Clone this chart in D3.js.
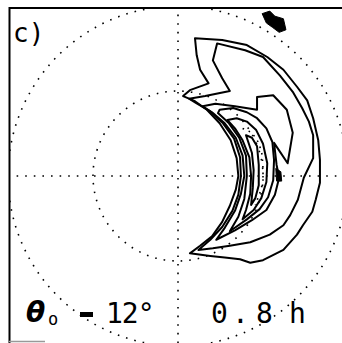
<!DOCTYPE html>
<html>
  <meta charset="utf-8" />
  <script src="https://cdnjs.cloudflare.com/ajax/libs/d3/7.8.5/d3.min.js"></script>
  <style>
    html, body { margin: 0; padding: 0; background: #fff; overflow: hidden; }
    #chart { width: 342px; height: 343px; }
    .grid { fill: none; stroke: #000; stroke-width: 1.6px; stroke-dasharray: 1.6 7; }
    .contour { fill: none; stroke: #000; stroke-width: 2px; stroke-linejoin: round; }
    .dots { fill: none; stroke: #000; stroke-width: 1.6px; stroke-dasharray: 1.6 5; }
    .frame { stroke: #000; stroke-width: 2px; }
    .lbl { font-family: 'DejaVu Sans Mono', monospace; fill: #000; }
  </style>
  <body>
    <div id="chart"></div>
  </body>
  <script>
    // polar grid, units = degrees from the pole
    var rings = [10, 20];

    // contour levels, outermost first ([x, y] in degrees)
    var level1 = [[2.0,16.2],[5.2,16.0],[8.1,15.4],[10.5,14.0],[12.4,12.5],[14.0,10.5],[15.2,8.9],[15.9,6.8],[16.5,4.2],[16.7,1.9],[16.7,-0.8],[16.2,-2.8],[15.8,-4.2],[14.7,-5.8],[14.0,-6.9],[12.4,-8.7],[10.0,-9.9],[8.5,-10.2],[7.3,-9.8],[5.5,-9.6],[3.8,-9.4],[1.4,-9.1],[2.6,-8.2],[4.0,-7.1],[5.2,-5.4],[6.1,-3.5],[6.8,-1.6],[7.1,0],[6.9,2.1],[6.2,4.2],[4.9,6.2],[3.4,7.8],[2.0,8.8],[0.6,9.4],[1.4,10.1],[3.6,10.9],[2.6,12.5],[2.2,14.2]];
    var level2 = [[4.6,15.6],[7.9,14.8],[10.0,14.0],[12.0,11.8],[13.5,9.9],[14.6,8.0],[15.4,6.4],[15.9,4.8],[15.9,2.1],[14.8,-0.2],[14.1,-2.8],[13.2,-4.6],[12.4,-5.8],[10.8,-6.9],[8.5,-7.8],[6.1,-8.2],[4.1,-8.5],[2.4,-8.7],[3.8,-7.5],[5.2,-6.0],[6.4,-4.1],[7.1,-2.2],[7.4,0],[7.3,2.2],[6.6,4.4],[5.3,6.2],[3.8,7.6],[2.1,8.6],[1.3,9.1],[3.2,9.4],[6.1,10.0],[5.2,11.5],[4.1,13.6]];
    var level3 = [[9.3,7.8],[9.3,9.3],[11.2,9.5],[12.8,7.8],[13.5,5.1],[12.9,1.5],[11.3,3.9],[11.6,1.3],[11.9,-0.2],[11.4,-2.2],[10.4,-4.0],[8.7,-5.2],[6.7,-6.4],[4.5,-7.5],[5.5,-6.1],[6.7,-4.1],[7.4,-2.1],[7.8,0],[7.6,2.4],[6.8,4.5],[5.5,6.2],[4.0,7.5],[2.9,8.2],[4.4,8.5],[6.7,8.2]];
    var level4 = [[4.9,7.8],[6.5,8.0],[8.1,7.5],[9.3,6.8],[10.4,5.6],[11.1,4.0],[11.3,1.9],[11.2,-0.5],[10.6,-2.5],[9.6,-3.9],[8.1,-5.1],[6.1,-6.5],[7.1,-4.8],[7.8,-2.7],[8.1,0],[8.0,2.4],[7.2,4.5],[6.0,6.2],[4.7,7.4]];
    var level5 = [[5.8,6.6],[6.9,6.8],[8.1,6.4],[9.2,5.4],[10.0,3.8],[10.5,1.5],[10.4,-0.7],[9.8,-2.6],[8.9,-4.0],[7.6,-5.1],[8.0,-4.0],[8.5,-2.1],[8.6,0],[8.4,2.2],[7.6,4.2],[6.7,5.6]];
    var level6 = [[8.0,4.8],[8.7,4.5],[9.3,3.5],[9.5,1.3],[9.5,-1.1],[9.1,-2.6],[8.6,-3.4],[8.8,-1.4],[8.9,0.7],[8.7,2.7]];
    var contours = [level1, level2, level3, level4, level5, level6];

    // dotted ridge line inside the crescent
    var ridge = [[7.6,5.6],[8.7,5.1],[9.5,3.9],[9.9,2.5],[10.0,0.9],[10.0,-0.7],[9.6,-2.1],[9.1,-3.4]];
    // filled markers
    var blob = [[11.5,0.9],[12.1,0.5],[12.2,-0.6],[11.6,-0.6]];
    var arrow = [[9.9,19.1],[10.8,19.4],[11.4,18.8],[12.4,18.5],[12.7,17.2],[11.9,16.9],[11.1,17.5],[10.4,18.0]];

    var panelLabel = 'c)';
    var angleText = ['θ', 'o', '-', '12°'];
    var timeText = ['0', '.', '8', 'h'];

    draw();

    function draw() {
      var W = 342, H = 343;
      var cx = 178, cy = 176, R = 170;

      var svg = d3.select('#chart').append('svg')
        .attr('width', W).attr('height', H);

      svg.append('clipPath').attr('id', 'frameClip')
        .append('rect').attr('x', 10).attr('y', 9).attr('width', W - 10).attr('height', H - 9);

      var x = d3.scaleLinear().domain([-20, 20]).range([cx - R, cx + R]);
      var y = d3.scaleLinear().domain([-20, 20]).range([cy + R, cy - R]);

      var g = svg.append('g').attr('clip-path', 'url(#frameClip)');

      // dotted grid
      g.selectAll('circle.grid').data(rings).enter().append('circle')
        .attr('class', 'grid')
        .attr('cx', x(0)).attr('cy', y(0))
        .attr('r', function (d) { return x(d) - x(0); });
      g.append('line').attr('class', 'grid')
        .attr('x1', x(-20)).attr('x2', x(20)).attr('y1', y(0)).attr('y2', y(0));
      g.append('line').attr('class', 'grid')
        .attr('x1', x(0)).attr('x2', x(0)).attr('y1', y(20)).attr('y2', y(-20));

      var line = d3.line()
        .x(function (d) { return x(d[0]); })
        .y(function (d) { return y(d[1]); });
      var closed = d3.line()
        .x(function (d) { return x(d[0]); })
        .y(function (d) { return y(d[1]); })
        .curve(d3.curveLinearClosed);

      g.selectAll('path.contour').data(contours).enter().append('path')
        .attr('class', 'contour')
        .attr('d', closed);

      g.append('path').attr('class', 'dots').attr('d', line(ridge));
      g.append('path').attr('d', closed(blob)).attr('fill', '#000').attr('stroke', '#000').attr('stroke-width', 1);
      g.append('path').attr('d', closed(arrow)).attr('fill', '#000').attr('stroke', '#000').attr('stroke-width', 1);

      // frame
      svg.append('line').attr('class', 'frame').attr('x1', 9).attr('x2', W).attr('y1', 8).attr('y2', 8);
      svg.append('line').attr('class', 'frame').attr('x1', 9.5).attr('x2', 9.5).attr('y1', 7).attr('y2', H);
      svg.append('line').attr('x1', 9).attr('x2', 45).attr('y1', 341.5).attr('y2', 341.5)
        .attr('stroke', '#999').attr('stroke-width', 1.5);

      // labels
      svg.append('text').attr('class', 'lbl')
        .attr('x', 13).attr('y', 42).style('font-size', '26px')
        .text(panelLabel);

      svg.append('text').attr('class', 'lbl')
        .attr('x', 26).attr('y', 322)
        .style('font-family', "'DejaVu Sans', sans-serif")
        .style('font-size', '28px').style('font-weight', 'bold').style('font-style', 'italic')
        .text(angleText[0]);
      svg.append('text').attr('class', 'lbl')
        .attr('x', 48).attr('y', 325).style('font-size', '17px')
        .text(angleText[1]);
      svg.append('rect').attr('x', 80).attr('y', 312).attr('width', 13).attr('height', 5).attr('fill', '#000');
      svg.append('text').attr('class', 'lbl')
        .attr('x', 106).attr('y', 323).style('font-size', '28px').style('letter-spacing', '-1px')
        .text(angleText[3]);

      svg.append('text').attr('class', 'lbl')
        .attr('y', 323).style('font-size', '28px')
        .selectAll('tspan').data(timeText).enter().append('tspan')
        .attr('x', function (d, i) { return [211, 232, 256, 289][i]; })
        .text(function (d) { return d; });
    }
  </script>
</html>
